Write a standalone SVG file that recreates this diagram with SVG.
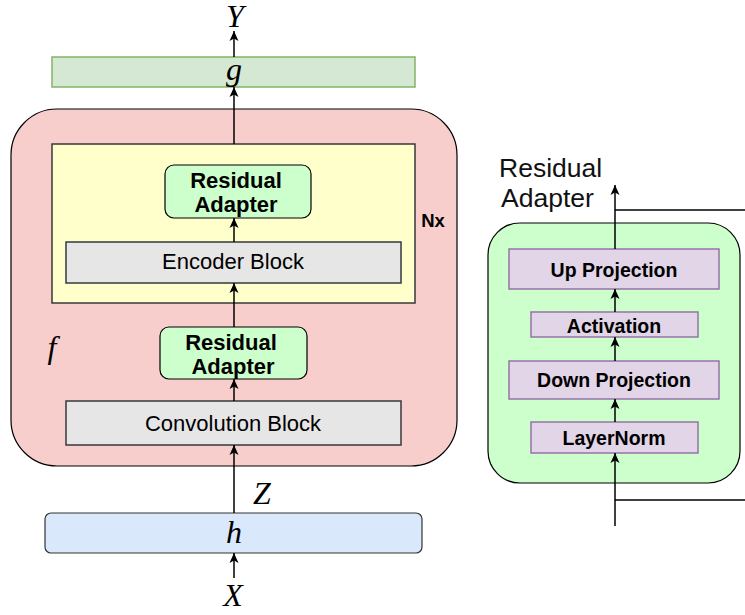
<svg xmlns="http://www.w3.org/2000/svg" width="745" height="615" viewBox="0 0 745 615">
<defs>
<marker id="arr" markerUnits="userSpaceOnUse" markerWidth="12" markerHeight="12" viewBox="0 0 12 12" refX="11" refY="6" orient="auto">
<path d="M1,1.5 L11,6 L1,10.5 L3.5,6 z" fill="#000"/>
</marker>
</defs>
<style>
.lbl{font-family:"Liberation Sans",Arial,sans-serif;fill:#000;text-anchor:middle}
.lft{font-family:"Liberation Sans",Arial,sans-serif;fill:#111;text-anchor:start;font-size:26.5px}
.b{font-weight:bold}
.m{font-family:"Liberation Serif","Times New Roman",serif;font-style:italic;font-size:32px;fill:#000;text-anchor:middle}
.gray{fill:#e6e6e6;stroke:#36393d;stroke-width:1.5}
.ra{fill:#ccffcc;stroke:#000;stroke-width:1.2}
.pp{fill:#e1d5e7;stroke:#9673a6;stroke-width:1.5}
.c{stroke:#000;stroke-width:1.5;fill:none}
.ca{stroke:#000;stroke-width:1.5;fill:none;marker-end:url(#arr)}
</style>
<rect width="745" height="615" fill="#fff"/>

<g id="f-container">
<rect x="11" y="109" width="446" height="357" rx="46" ry="46" fill="#f8cecc" stroke="#000" stroke-width="1.2"/>
<text class="m" x="52" y="358" font-size="30">f</text>
</g>
<g id="nx-block">
<rect x="52" y="144" width="363" height="159" fill="#ffffcc" stroke="#36393d" stroke-width="1.5"/>
<text class="lbl b" x="433" y="227" font-size="18.5">Nx</text>
</g>
<g id="g-box">
<rect x="52" y="57" width="363" height="30" fill="#d5e8d4" stroke="#82b366" stroke-width="1.5"/>
<text class="m" x="234" y="80" font-size="30">g</text>
</g>
<g id="ra-top">
<rect class="ra" x="165" y="165" width="146" height="53" rx="9"/>
<text class="lbl b" x="236" y="188" font-size="22">Residual</text>
<text class="lbl b" x="236" y="212" font-size="22">Adapter</text>
</g>
<g id="encoder-block">
<rect class="gray" x="66" y="242" width="335" height="41"/>
<text class="lbl" x="233" y="269" font-size="22" fill="#222">Encoder Block</text>
</g>
<g id="ra-bottom">
<rect class="ra" x="160" y="327" width="147" height="52" rx="9"/>
<text class="lbl b" x="231" y="350" font-size="22">Residual</text>
<text class="lbl b" x="233" y="374" font-size="22">Adapter</text>
</g>
<g id="conv-block">
<rect class="gray" x="66" y="401" width="335" height="44"/>
<text class="lbl" x="233" y="431" font-size="22" fill="#222">Convolution Block</text>
</g>
<g id="h-box">
<rect x="45" y="513" width="377" height="40" rx="6" fill="#dae8fc" stroke="#333" stroke-width="1.2"/>
<text class="m" x="234" y="543">h</text>
</g>
<g id="labels">
<text class="m" x="235" y="27" font-size="27">Y</text>
<text class="m" x="262" y="504">Z</text>
<text class="m" x="233" y="606">X</text>
</g>

<g id="adapter-detail">
<rect x="488" y="223" width="252" height="260" rx="32" fill="#ccffcc" stroke="#000" stroke-width="1.2"/>
<text class="lft" x="499" y="177">Residual</text>
<text class="lft" x="501" y="207">Adapter</text>
</g>
<g id="up-proj">
<rect class="pp" x="509" y="249" width="210" height="40"/>
<text class="lbl b" x="614" y="277" font-size="19.5">Up Projection</text>
</g>
<g id="activation">
<rect class="pp" x="531" y="312" width="167" height="25"/>
<text class="lbl b" x="614" y="333" font-size="19.5">Activation</text>
</g>
<g id="down-proj">
<rect class="pp" x="509" y="361" width="210" height="38"/>
<text class="lbl b" x="614" y="387" font-size="19.5">Down Projection</text>
</g>
<g id="layernorm">
<rect class="pp" x="531" y="422" width="167" height="31"/>
<text class="lbl b" x="614" y="445" font-size="19.5">LayerNorm</text>
</g>

<g id="connectors">
<line class="ca" x1="234" y1="578" x2="234" y2="553"/>
<line class="ca" x1="234" y1="513" x2="234" y2="445"/>
<line class="ca" x1="234" y1="401" x2="234" y2="379"/>
<line class="ca" x1="234" y1="327" x2="234" y2="283"/>
<line class="ca" x1="234" y1="242" x2="234" y2="218"/>
<line class="ca" x1="234" y1="144" x2="234" y2="87"/>
<line class="ca" x1="234" y1="57" x2="234" y2="31"/>
<line class="ca" x1="615" y1="526" x2="615" y2="453"/>
<line class="c" x1="615" y1="500" x2="745" y2="500"/>
<line class="ca" x1="615" y1="422" x2="615" y2="399"/>
<line class="ca" x1="615" y1="361" x2="615" y2="337"/>
<line class="ca" x1="615" y1="312" x2="615" y2="289"/>
<line class="ca" x1="615" y1="249" x2="615" y2="185"/>
<line class="c" x1="615" y1="210" x2="745" y2="210"/>
</g>
</svg>
